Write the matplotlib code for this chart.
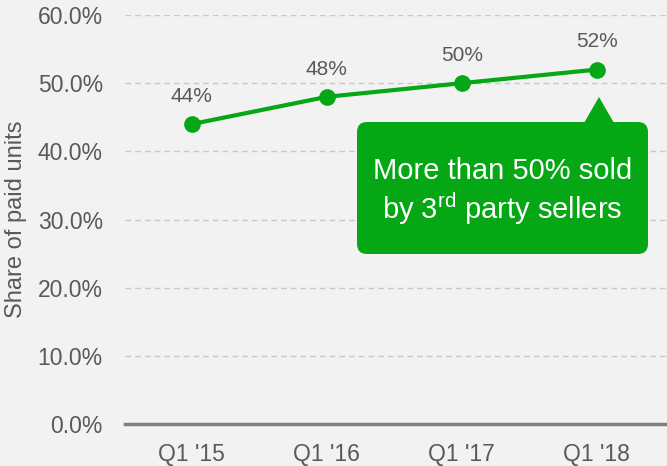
import matplotlib
matplotlib.use("Agg")
import matplotlib.pyplot as plt
from matplotlib.patches import FancyBboxPatch, Polygon
from matplotlib.ticker import PercentFormatter

quarters = ["Q1 '15", "Q1 '16", "Q1 '17", "Q1 '18"]
share = [0.44, 0.48, 0.50, 0.52]
point_labels = ["44%", "48%", "50%", "52%"]
yticks = [0.0, 0.1, 0.2, 0.3, 0.4, 0.5, 0.6]

plt.rcParams["font.family"] = ["Liberation Sans", "DejaVu Sans"]
plt.rcParams["mathtext.fontset"] = "custom"
plt.rcParams["mathtext.rm"] = "Liberation Sans"

green = "#05a814"
grey_text = "#595959"
bg = "#f2f2f2"

fig = plt.figure(figsize=(6.67, 4.66), dpi=100, facecolor=bg)
ax = fig.add_axes([0.1874, 0.0901, 0.8126, 0.8777], facecolor=bg)

x = list(range(len(quarters)))
ax.plot(x, share, color=green, lw=3, marker="o", ms=11, zorder=3, clip_on=False)
for xi, yi, lab in zip(x, share, point_labels):
    ax.annotate(lab, (xi, yi), xytext=(0, 13), textcoords="offset points",
                ha="center", va="bottom", fontsize=15, color=grey_text)

ax.set_xlim(-0.496, 3.52)
ax.set_ylim(0, 0.6)
ax.set_xticks(x)
ax.set_xticklabels(quarters)
ax.set_yticks(yticks)
ax.yaxis.set_major_formatter(PercentFormatter(1.0, decimals=1))
ax.tick_params(axis="both", length=0, labelsize=16.5, colors=grey_text)
ax.tick_params(axis="y", pad=16)
ax.tick_params(axis="x", pad=14)
ax.yaxis.grid(True, ls=(0, (4, 3)), color="#c8c8c8", lw=1)
ax.set_axisbelow(True)
for s in ["top", "right", "left"]:
    ax.spines[s].set_visible(False)
ax.spines["bottom"].set_color("#808080")
ax.spines["bottom"].set_linewidth(2.5)
ax.set_ylabel("Share of paid units", fontsize=17, color=grey_text)
ax.yaxis.set_label_coords(-0.181, 0.5)

# callout box (inch coordinates)
tr = fig.dpi_scale_trans
box = FancyBboxPatch((3.57, 2.12), 2.91, 1.32, boxstyle="round,pad=0,rounding_size=0.1",
                     transform=tr, facecolor=green, edgecolor="none", zorder=5)
fig.patches.append(box)
tri = Polygon([(5.84, 3.43), (6.14, 3.43), (5.99, 3.69)], closed=True,
              transform=tr, facecolor=green, edgecolor="none", zorder=5)
fig.patches.append(tri)
fig.text(5.025, 2.74, "More than 50% sold\nby 3$^{\\mathrm{rd}}$ party sellers",
         transform=tr, ha="center", va="center", fontsize=21, color="white",
         linespacing=1.2, zorder=6)

plt.savefig("out.png", dpi=100, facecolor=bg)
